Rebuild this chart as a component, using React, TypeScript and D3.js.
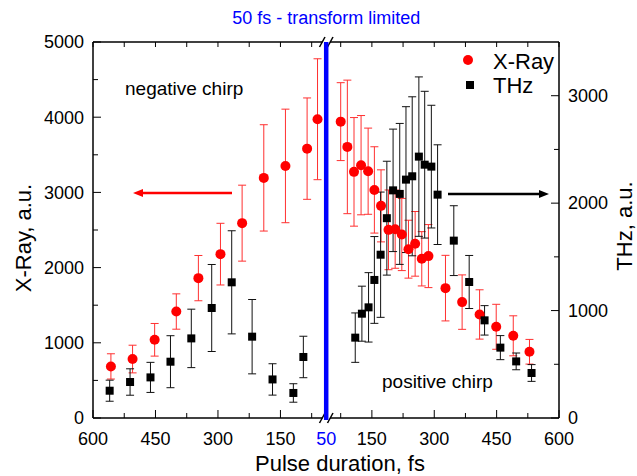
import * as d3 from "d3";

// pulse duration (fs) for the negative-chirp side, plotted left of the break
const negXrayPulse = [557, 505, 452, 400, 347, 294, 242, 190, 138, 86, 61];
const negXray = [686, 784, 1040, 1416, 1860, 2179, 2591, 3193, 3352, 3582, 3973];
const negXrayErr = [168, 184, 217, 235, 301, 410, 505, 707, 755, 674, 804];

const posXrayPulse = [75, 91, 107, 124, 141, 156, 172, 190, 206, 222, 238, 254, 270, 286, 327, 367, 409, 449, 490, 529];
const posXray = [3941, 3605, 3273, 3362, 3282, 3033, 2821, 2502, 2511, 2440, 2245, 2316, 2117, 2153, 1727, 1541, 1377, 1213, 1093, 881];
const posXrayErr = [518, 888, 722, 660, 573, 574, 479, 530, 520, 480, 385, 430, 361, 419, 436, 362, 328, 299, 266, 164];

const negThzPulse = [560, 511, 462, 414, 364, 315, 267, 218, 169, 119, 95];
const negThz = [254, 335, 378, 524, 741, 1024, 1263, 757, 359, 233, 568];
const negThzErr = [98, 123, 140, 242, 272, 405, 480, 346, 146, 86, 193];

const posThzPulse = [110, 126, 142, 156, 171, 186, 201, 217, 232, 247, 263, 277, 293, 308, 347, 384, 421, 459, 497, 534];
const posThz = [748, 971, 1030, 1285, 1520, 1860, 2119, 2086, 2219, 2250, 2433, 2358, 2340, 2079, 1651, 1266, 909, 655, 527, 419];
const posThzErr = [230, 256, 323, 404, 583, 530, 570, 656, 679, 740, 742, 683, 571, 464, 325, 247, 137, 112, 78, 78];

const xMajor = [150, 300, 450, 600];
const xMinor = [75, 225, 375, 525];
const xrayTicks = [0, 1000, 2000, 3000, 4000, 5000];
const xrayMinor = [500, 1500, 2500, 3500, 4500];
const thzTicks = [0, 1000, 2000, 3000];
const thzMinor = [500, 1500, 2500];

const W = 637;
const H = 476;
const left = 93, right = 559, top = 42, bottom = 418;
const font = "'Liberation Sans', Arial, sans-serif";

// broken axis: negative chirp (600 -> 50) then positive chirp (50 -> 600)
const x = d3.scaleLinear().domain([-600, -50, 50, 600]).range([left, 322.1, 330.3, right]);
const yX = d3.scaleLinear().domain([0, 5000]).range([bottom, top]);
const yT = d3.scaleLinear().domain([0, 3500]).range([bottom, top]);
const breakX = 326.2;

type Pt = { px: number; v: number; e: number };
const zip = (p: number[], v: number[], e: number[], sign: number): Pt[] =>
  p.map((d, i) => ({ px: x(sign * d), v: v[i], e: e[i] }));

const xray = [...zip(negXrayPulse, negXray, negXrayErr, -1), ...zip(posXrayPulse, posXray, posXrayErr, 1)];
const thz = [...zip(negThzPulse, negThz, negThzErr, -1), ...zip(posThzPulse, posThz, posThzErr, 1)];

const ErrBars = ({ pts, y, color }: { pts: Pt[]; y: d3.ScaleLinear<number, number>; color: string }) => (
  <g stroke={color} strokeWidth={1} fill="none">
    {pts.map((d, i) => {
      const y1 = y(d.v + d.e), y2 = y(d.v - d.e);
      return (
        <g key={i}>
          <line x1={d.px} x2={d.px} y1={y1} y2={y2} />
          <line x1={d.px - 4} x2={d.px + 4} y1={y1} y2={y1} />
          <line x1={d.px - 4} x2={d.px + 4} y1={y2} y2={y2} />
        </g>
      );
    })}
  </g>
);

export default function App() {
  const allMajor = [...xMajor.map((d) => -d), ...xMajor];
  const allMinor = [...xMinor.map((d) => -d), ...xMinor];
  return (
    <svg width={W} height={H} style={{ position: "absolute", left: 0, top: 0, background: "#fff" }} fontFamily={font}>
      {/* title */}
      <text x={breakX} y={24} textAnchor="middle" fontSize={18} fill="#0000ff">50 fs - transform limited</text>

      {/* frame */}
      <g stroke="#000" strokeWidth={1.5} fill="none">
        <line x1={left} x2={left} y1={top} y2={bottom} />
        <line x1={right} x2={right} y1={top} y2={bottom} />
        <line x1={left} x2={322.5} y1={bottom} y2={bottom} />
        <line x1={330} x2={right} y1={bottom} y2={bottom} />
        <line x1={left} x2={322.5} y1={top} y2={top} />
        <line x1={330} x2={right} y1={top} y2={top} />
        {[bottom, top].map((yy) => (
          <g key={yy}>
            <line x1={319.5} x2={325} y1={yy + 5} y2={yy - 5} />
            <line x1={327.5} x2={333} y1={yy + 5} y2={yy - 5} />
          </g>
        ))}
      </g>

      {/* x ticks */}
      <g stroke="#000" strokeWidth={1}>
        {allMajor.map((d) => (
          <g key={"M" + d}>
            <line x1={x(d)} x2={x(d)} y1={bottom} y2={bottom - 8} />
            <line x1={x(d)} x2={x(d)} y1={top} y2={top + 5} />
          </g>
        ))}
        {allMinor.map((d) => (
          <g key={"m" + d}>
            <line x1={x(d)} x2={x(d)} y1={bottom} y2={bottom - 5} />
            <line x1={x(d)} x2={x(d)} y1={top} y2={top + 5} />
          </g>
        ))}
        {xrayTicks.map((d) => <line key={"y" + d} x1={left} x2={left + 8} y1={yX(d)} y2={yX(d)} />)}
        {xrayMinor.map((d) => <line key={"ym" + d} x1={left} x2={left + 5} y1={yX(d)} y2={yX(d)} />)}
        {thzTicks.map((d) => <line key={"t" + d} x1={right} x2={right - 8} y1={yT(d)} y2={yT(d)} />)}
        {thzMinor.map((d) => <line key={"tm" + d} x1={right} x2={right - 5} y1={yT(d)} y2={yT(d)} />)}
      </g>

      {/* tick labels */}
      <g fontSize={18} fill="#000">
        {allMajor.map((d) => (
          <text key={d} x={x(d)} y={445} textAnchor="middle">{Math.abs(d)}</text>
        ))}
        <text x={breakX} y={445} textAnchor="middle" fill="#0000ff">50</text>
        {xrayTicks.map((d) => (
          <text key={d} x={84} y={yX(d)} dy="0.35em" textAnchor="end">{d}</text>
        ))}
        {thzTicks.map((d) => (
          <text key={d} x={568} y={yT(d)} dy="0.35em" textAnchor="start">{d}</text>
        ))}
      </g>

      {/* axis titles */}
      <text x={340} y={471} textAnchor="middle" fontSize={22}>Pulse duration, fs</text>
      <text transform={`translate(31,238) rotate(-90)`} textAnchor="middle" fontSize={22}>X-Ray, a.u.</text>
      <text transform={`translate(632,226) rotate(-90)`} textAnchor="middle" fontSize={22}>THz, a.u.</text>

      {/* transform limit line */}
      <line x1={breakX} x2={breakX} y1={top} y2={bottom + 2} stroke="#0000ff" strokeWidth={4.5} />

      {/* data */}
      <ErrBars pts={xray} y={yX} color="#ff3030" />
      <ErrBars pts={thz} y={yT} color="#111" />
      <g fill="#ff0000">
        {xray.map((d, i) => <circle key={i} cx={d.px} cy={yX(d.v)} r={5} />)}
      </g>
      <g fill="#000">
        {thz.map((d, i) => <rect key={i} x={d.px - 4} y={yT(d.v) - 4} width={8} height={8} />)}
      </g>

      {/* arrows */}
      <line x1={232} x2={140} y1={193} y2={193} stroke="#ff0000" strokeWidth={2.5} />
      <polygon points="133,193 143,189 143,197" fill="#ff0000" />
      <line x1={448} x2={541} y1={194} y2={194} stroke="#000" strokeWidth={2.5} />
      <polygon points="549,194 539,190 539,198" fill="#000" />

      {/* annotations */}
      <text x={125} y={95} fontSize={19}>negative chirp</text>
      <text x={382} y={388} fontSize={19}>positive chirp</text>

      {/* legend */}
      <circle cx={468} cy={60} r={5} fill="#ff0000" />
      <text x={493} y={69} fontSize={22}>X-Ray</text>
      <rect x={466} y={81} width={8} height={8} fill="#000" />
      <text x={493} y={93} fontSize={22}>THz</text>
    </svg>
  );
}
